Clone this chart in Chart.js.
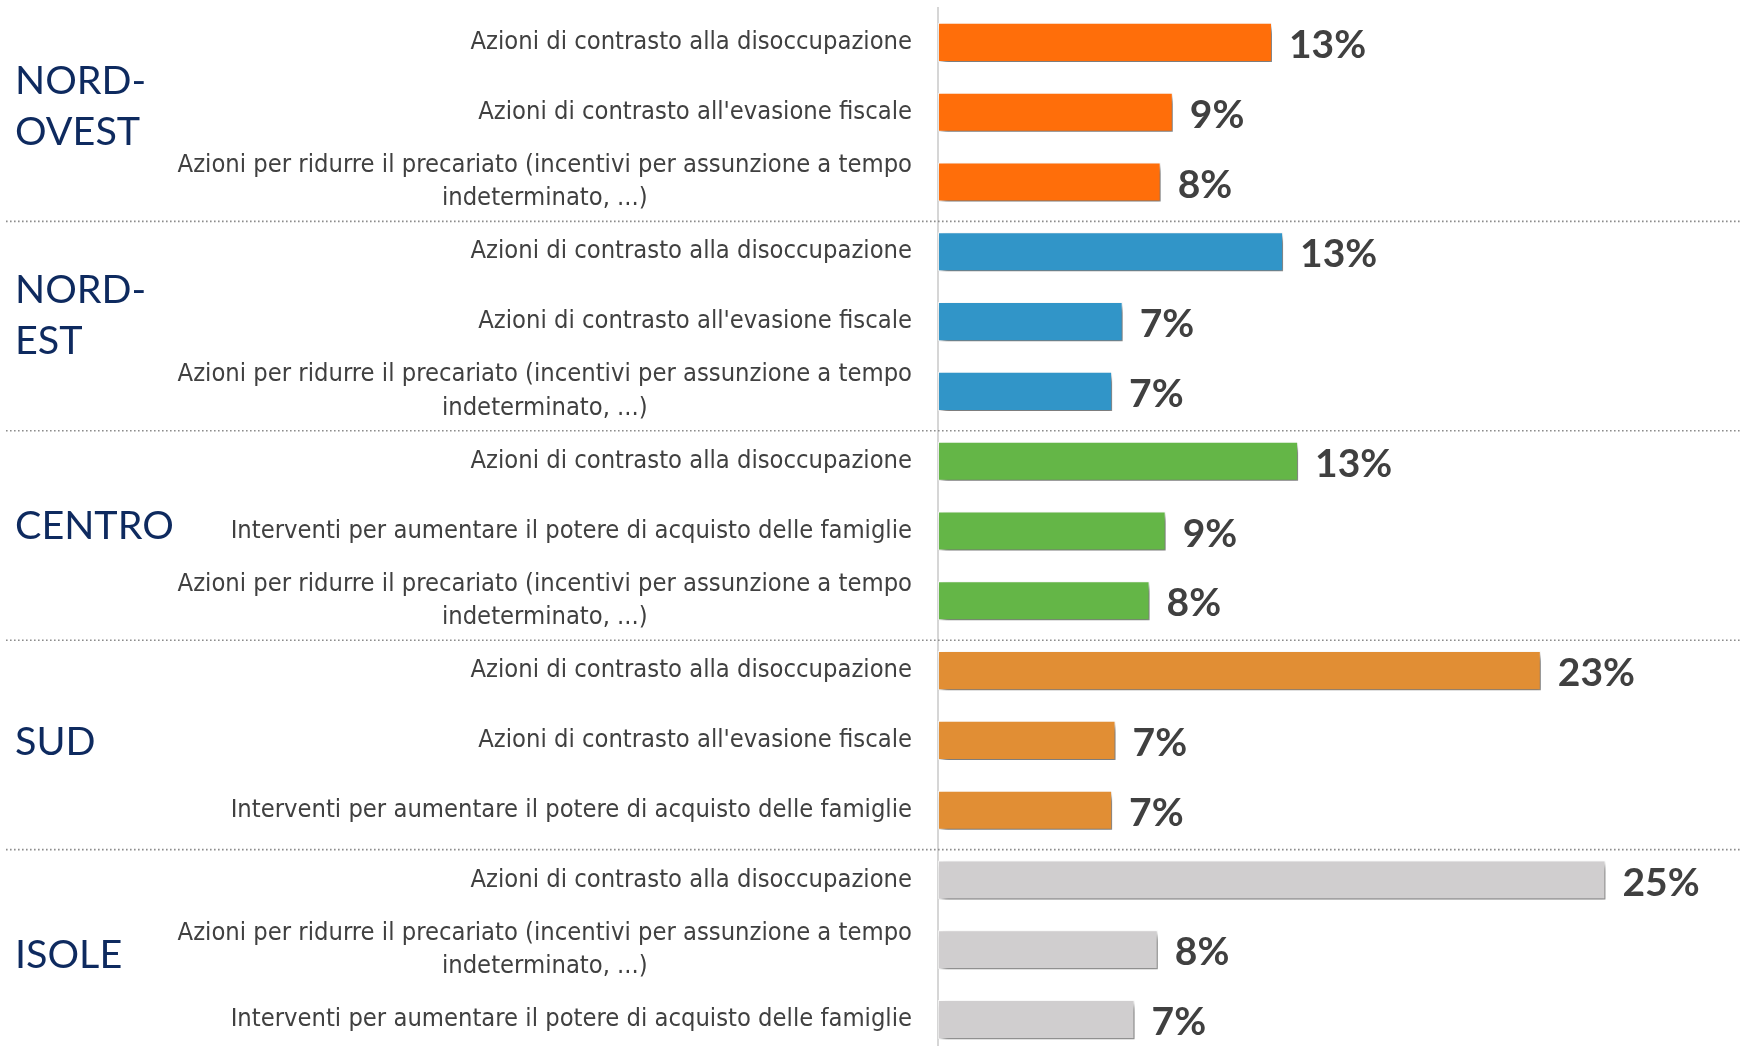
<!DOCTYPE html>
<html>
<head>
<meta charset="utf-8">
<script src="https://cdn.jsdelivr.net/npm/chart.js@4/dist/chart.umd.min.js"></script>
<style>
  html, body { margin: 0; padding: 0; background: #ffffff; overflow: hidden; }
  #wrap { width: 1750px; height: 1046px; overflow: hidden; position: relative; }
  canvas { display: block; }
</style>
</head>
<body>
<div id="wrap"><canvas id="c" width="1750" height="1062"></canvas></div>
<script>
// ---- data ----
const regions = [["NORD-", "OVEST"], ["NORD-", "EST"], ["CENTRO"], ["SUD"], ["ISOLE"]];
const regionColors = ["#FF6E0A", "#3195C8", "#64B647", "#E18E34", "#D0CECF"];

const categories = [
  "Azioni di contrasto alla disoccupazione",
  "Azioni di contrasto all'evasione fiscale",
  ["Azioni per ridurre il precariato (incentivi per assunzione a tempo", "indeterminato, ...)"],
  "Azioni di contrasto alla disoccupazione",
  "Azioni di contrasto all'evasione fiscale",
  ["Azioni per ridurre il precariato (incentivi per assunzione a tempo", "indeterminato, ...)"],
  "Azioni di contrasto alla disoccupazione",
  "Interventi per aumentare il potere di acquisto delle famiglie",
  ["Azioni per ridurre il precariato (incentivi per assunzione a tempo", "indeterminato, ...)"],
  "Azioni di contrasto alla disoccupazione",
  "Azioni di contrasto all'evasione fiscale",
  "Interventi per aumentare il potere di acquisto delle famiglie",
  "Azioni di contrasto alla disoccupazione",
  ["Azioni per ridurre il precariato (incentivi per assunzione a tempo", "indeterminato, ...)"],
  "Interventi per aumentare il potere di acquisto delle famiglie"
];
const rowRegion = [0,0,0, 1,1,1, 2,2,2, 3,3,3, 4,4,4];
const values = [12.66, 8.9, 8.44, 13.08, 7.0, 6.6, 13.65, 8.63, 8.02, 22.85, 6.73, 6.6, 25.3, 8.33, 7.45];
const shownLabels = ["13%", "9%", "8%", "13%", "7%", "7%", "13%", "9%", "8%", "23%", "7%", "7%", "25%", "8%", "7%"];

// ---- plugins ----
const TICK_FONT = '25.3px "Liberation Sans Narrow", "DejaVu Sans Condensed", sans-serif';
const REGION_FONT = '39.5px Lato, "Noto Sans", sans-serif';
const VALUE_FONT = 'bold 39px Lato, "Open Sans", sans-serif';
const REGION_NUDGE = [-5, -6, -5, 1.5, 5];

const decorPlugin = {
  id: 'decor',
  beforeDatasetsDraw(chart) {
    const ctx = chart.ctx;
    const y = chart.scales.y;
    ctx.save();
    ctx.strokeStyle = '#8c8c8c';
    ctx.lineWidth = 1.6;
    ctx.setLineDash([1.6, 2.4]);
    for (let i = 2; i < categories.length - 1; i += 3) {
      const py = (y.getPixelForTick(i) + y.getPixelForTick(i + 1)) / 2 + 4.5;
      ctx.beginPath();
      ctx.moveTo(6, py);
      ctx.lineTo(1740, py);
      ctx.stroke();
    }
    ctx.restore();
  },
  beforeDatasetDraw(chart) {
    const ctx = chart.ctx;
    ctx.save();
    ctx.shadowColor = 'rgba(0,0,0,0.55)';
    ctx.shadowBlur = 6;
    ctx.shadowOffsetX = 4;
    ctx.shadowOffsetY = 5;
  },
  afterDatasetDraw(chart) {
    chart.ctx.restore();
  },
  afterDatasetsDraw(chart) {
    const ctx = chart.ctx;
    const y = chart.scales.y;
    const meta = chart.getDatasetMeta(0);
    ctx.save();
    // category labels
    ctx.font = TICK_FONT;
    ctx.fillStyle = '#404040';
    ctx.textBaseline = 'middle';
    const rightX = 912;
    categories.forEach((lab, i) => {
      const cy = y.getPixelForTick(i);
      if (Array.isArray(lab)) {
        const w0 = ctx.measureText(lab[0]).width;
        const center = rightX - w0 / 2;
        ctx.textAlign = 'center';
        const lh = 33.5;
        lab.forEach((line, k) => {
          ctx.fillText(line, center, cy + (k - (lab.length - 1) / 2) * lh);
        });
      } else {
        ctx.textAlign = 'right';
        ctx.fillText(lab, rightX, cy);
      }
    });
    // region labels
    ctx.font = REGION_FONT;
    ctx.fillStyle = '#0E2A5F';
    ctx.textAlign = 'left';
    regions.forEach((lines, g) => {
      const cy = y.getPixelForTick(g * 3 + 1) + REGION_NUDGE[g];
      const lh = 51;
      lines.forEach((line, k) => {
        ctx.fillText(line, 15, cy + (k - (lines.length - 1) / 2) * lh);
      });
    });
    // value labels
    ctx.font = VALUE_FONT;
    ctx.fillStyle = '#404040';
    ctx.textAlign = 'left';
    meta.data.forEach((bar, i) => {
      ctx.fillText(shownLabels[i], bar.x + 17, bar.y + 3);
    });
    ctx.restore();
  }
};

new Chart(document.getElementById('c'), {
  type: 'bar',
  data: {
    labels: categories.map((c, i) => 'r' + i),
    datasets: [{
      data: values,
      backgroundColor: rowRegion.map(r => regionColors[r]),
      borderColor: 'rgba(255,255,255,0.7)',
      borderWidth: 1,
      borderSkipped: false,
      categoryPercentage: 1,
      barPercentage: 0.56
    }]
  },
  options: {
    indexAxis: 'y',
    responsive: false,
    animation: false,
    devicePixelRatio: 1,
    layout: { padding: { left: 938, right: 10, top: 7.5, bottom: 7.5 } },
    plugins: { legend: { display: false }, tooltip: { enabled: false } },
    scales: {
      x: { display: false, min: 0, max: 30.4 },
      y: {
        display: true,
        ticks: { display: false },
        grid: { display: false, drawTicks: false },
        border: { display: true, color: '#d6d6d6', width: 2 }
      }
    }
  },
  plugins: [decorPlugin]
});
</script>
</body>
</html>
